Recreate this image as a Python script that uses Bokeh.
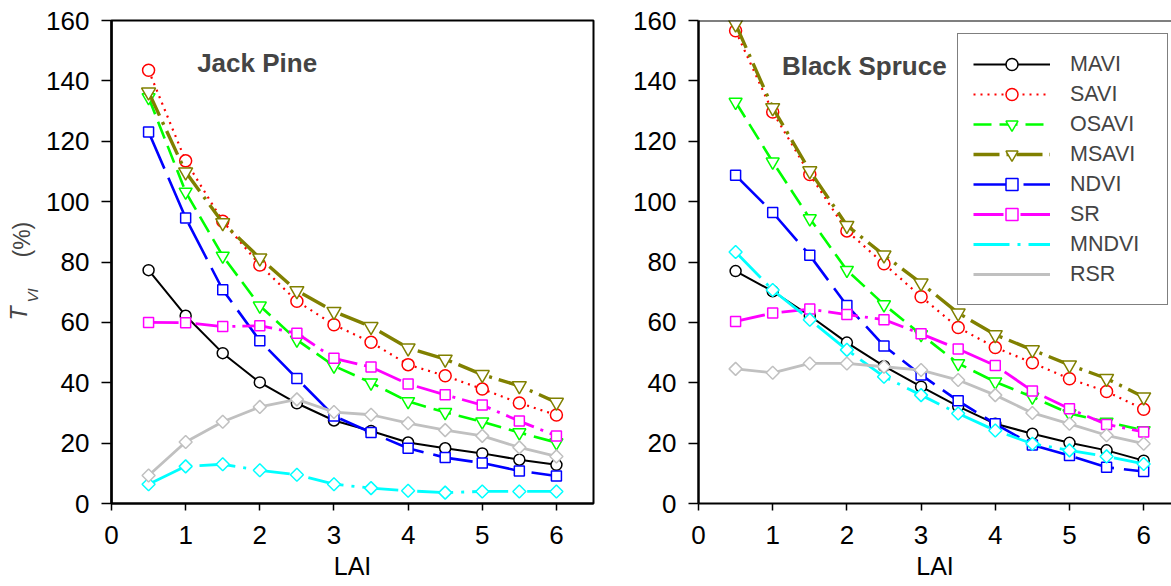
from math import pi

from bokeh.embed import file_html
from bokeh.layouts import row
from bokeh.models import FixedTicker, Label, Legend, LegendItem, Span, Title
from bokeh.plotting import figure
from bokeh.resources import INLINE

# Leaf area index values shared by both stands
lai = [0.5, 1.0, 1.5, 2.0, 2.5, 3.0, 3.5, 4.0, 4.5, 5.0, 5.5, 6.0]

# Jack Pine: T_VI (%) per vegetation index
jp_mavi = [77.3, 62.2, 49.8, 40.1, 33.2, 27.5, 24.0, 20.2, 18.3, 16.6, 14.5, 12.8]
jp_savi = [143.5, 113.5, 93.5, 79.0, 67.0, 59.2, 53.4, 46.0, 42.3, 37.9, 33.3, 29.3]
jp_osavi = [134.5, 103.2, 82.0, 65.5, 54.2, 45.6, 40.0, 33.8, 30.2, 27.1, 23.5, 20.2]
jp_msavi = [136.3, 109.8, 93.0, 81.3, 70.5, 63.6, 58.6, 51.5, 47.8, 42.7, 39.0, 33.5]
jp_ndvi = [123.1, 94.6, 70.8, 53.9, 41.4, 29.0, 23.5, 18.3, 15.2, 13.4, 10.8, 9.1]
jp_sr = [60.0, 59.9, 58.6, 58.9, 56.4, 48.1, 45.2, 39.6, 36.0, 32.6, 27.3, 22.4]
jp_mndvi = [6.4, 12.3, 13.0, 11.0, 9.5, 6.4, 5.1, 4.2, 3.6, 4.0, 4.0, 4.0]
jp_rsr = [9.3, 20.4, 27.1, 32.0, 34.5, 30.3, 29.4, 26.6, 24.3, 22.4, 18.6, 15.6]

# Black Spruce: T_VI (%) per vegetation index
bs_mavi = [77.0, 70.3, 62.2, 53.3, 45.5, 38.7, 32.2, 26.4, 23.1, 20.1, 17.6, 14.2]
bs_savi = [156.6, 129.7, 109.0, 90.3, 79.4, 68.5, 58.3, 51.7, 46.6, 41.3, 37.1, 31.2]
bs_osavi = [133.0, 113.2, 94.4, 77.3, 65.9, 56.0, 46.4, 40.3, 35.3, 29.8, 27.0, 24.2]
bs_msavi = [158.8, 131.1, 110.2, 92.1, 82.3, 73.0, 63.1, 55.9, 50.9, 45.9, 41.4, 35.3]
bs_ndvi = [108.7, 96.4, 82.2, 65.6, 52.2, 42.6, 34.0, 26.4, 19.4, 15.9, 12.0, 10.6]
bs_sr = [60.3, 63.1, 64.4, 62.6, 60.9, 56.2, 51.2, 45.7, 37.3, 31.4, 26.2, 23.7]
bs_mndvi = [83.3, 70.7, 60.9, 50.9, 42.0, 35.9, 29.8, 24.2, 19.8, 17.6, 15.6, 13.1]
bs_rsr = [44.6, 43.3, 46.4, 46.4, 45.3, 44.2, 40.9, 35.9, 30.0, 26.4, 22.6, 19.8]

index_names = ["MAVI", "SAVI", "OSAVI", "MSAVI", "NDVI", "SR", "MNDVI", "RSR"]
jack_pine = [jp_mavi, jp_savi, jp_osavi, jp_msavi, jp_ndvi, jp_sr, jp_mndvi, jp_rsr]
black_spruce = [bs_mavi, bs_savi, bs_osavi, bs_msavi, bs_ndvi, bs_sr, bs_mndvi, bs_rsr]

x_ticks = [0, 1, 2, 3, 4, 5, 6]
y_ticks = [0, 20, 40, 60, 80, 100, 120, 140, 160]

FONT = "Liberation Sans"

# line colour, dash, width, marker, marker size, marker angle, legend marker
STYLES = {
    "MAVI": ("black", "solid", 2.0, "circle", 11, 0.0, "circle"),
    "SAVI": ("#FF0000", "2 5", 2.2, "circle", 12, 0.0, "circle"),
    "OSAVI": ("#00FF00", "18 8", 2.6, "inverted_triangle", 13, 0.0, "inverted_triangle"),
    "MSAVI": ("#808000", "26 7 3 7", 3.4, "inverted_triangle", 14, 0.0, "inverted_triangle"),
    "NDVI": ("#0000FF", "40 10", 2.6, "square", 10, 0.0, "square"),
    "SR": ("#FF00FF", "30 7 3 7", 2.8, "square", 10, 0.0, "square"),
    "MNDVI": ("#00FFFF", "36 8 3 8", 2.8, "square", 9.2, pi / 4, "diamond"),
    "RSR": ("#C0C0C0", "solid", 2.8, "square", 9.2, pi / 4, "diamond"),
}


def style_axes(p):
    for ax, out in ((p.xaxis, 7), (p.yaxis, 10)):
        ax.axis_line_color = "black"
        ax.major_tick_line_color = "black"
        ax.major_tick_line_width = 1.5
        ax.major_tick_in = 0
        ax.major_tick_out = out
        ax.minor_tick_line_color = None
        ax.major_label_text_font = FONT
        ax.major_label_text_font_size = "26px"
        ax.major_label_text_color = "black"
    p.xaxis.major_label_standoff = 15
    p.yaxis.major_label_standoff = 12
    p.xaxis.axis_line_width = 2
    p.yaxis.axis_line_width = 2.5
    p.xaxis.ticker = FixedTicker(ticks=x_ticks)
    p.yaxis.ticker = FixedTicker(ticks=y_ticks)


def make_panel(values, title, title_x, title_y, width, x_end, border_left,
               border_right, boxed, with_legend, lai_offset):
    p = figure(width=width, height=586, x_range=(0, x_end), y_range=(0, 160),
               output_backend="svg", toolbar_location=None,
               min_border_left=border_left, min_border_right=border_right,
               min_border_top=20, min_border_bottom=83)
    p.grid.visible = False
    p.background_fill_color = "white"
    p.border_fill_color = "white"
    if boxed:
        p.outline_line_color = "black"
        p.outline_line_width = 2
        p.outline_line_alpha = 1
    else:
        p.outline_line_color = None
        p.add_layout(Span(location=160, dimension="width",
                          line_color="black", line_width=2))
    style_axes(p)

    items = []
    for name, ys in zip(index_names, values):
        color, dash, lw, marker, size, angle, key_marker = STYLES[name]
        lr = p.line(lai, ys, line_color=color, line_dash=dash, line_width=lw)
        sr = p.scatter(lai, ys, marker=marker, size=size, angle=angle,
                       line_color=color, line_width=1.5, fill_color="white")
        if key_marker != marker:
            # legend sample only, no data points
            sr = p.scatter([], [], marker=key_marker, line_color=color,
                           line_width=1.5, fill_color="white")
        items.append(LegendItem(label=name, renderers=[lr, sr]))

    p.add_layout(Label(x=title_x, y=title_y, text=title, text_font=FONT,
                       text_font_style="bold", text_font_size="26px",
                       text_baseline="alphabetic", text_align="left"))

    p.add_layout(Title(text="LAI", align="center", offset=lai_offset, standoff=6,
                       text_font=FONT, text_font_size="25px",
                       text_font_style="normal", text_color="black"), "below")

    if with_legend:
        legend = Legend(items=items, location=(259, 198), margin=0,
                        border_line_color="black", border_line_width=1,
                        background_fill_color="white", background_fill_alpha=1,
                        padding=15, spacing=0, glyph_width=77, glyph_height=30,
                        label_height=30, label_width=82, label_standoff=20,
                        label_text_font=FONT, label_text_font_size="21.5px")
        p.add_layout(legend)
    return p


# narrow strip carrying the y-axis title: italic T, subscript VI, then (%)
ylab = figure(width=42, height=586, x_range=(0, 42), y_range=(0, 483),
              x_axis_type=None, y_axis_type=None, output_backend="svg",
              toolbar_location=None, min_border_left=0, min_border_right=0,
              min_border_top=20, min_border_bottom=83)
ylab.grid.visible = False
ylab.outline_line_color = None
ylab.add_layout(Label(x=18, y=183, x_units="screen", y_units="screen", text="T",
                      angle=pi / 2, text_font=FONT, text_font_style="italic",
                      text_font_size="23px", text_align="left",
                      text_baseline="alphabetic"))
ylab.add_layout(Label(x=32, y=201, x_units="screen", y_units="screen", text="VI",
                      angle=pi / 2, text_font=FONT, text_font_style="italic",
                      text_font_size="15px", text_align="left",
                      text_baseline="alphabetic"))
ylab.add_layout(Label(x=21, y=246, x_units="screen", y_units="screen", text="(%)",
                      angle=pi / 2, text_font=FONT, text_font_size="23px",
                      text_align="left", text_baseline="alphabetic"))

left = make_panel(jack_pine, "Jack Pine", 1.155, 146.0, 558, 6.5, 69, 7,
                  True, False, 2.5)
right = make_panel(black_spruce, "Black Spruce", 1.124, 145.0, 571, 6.375, 98, 0,
                   False, True, 13.5)

layout = row(ylab, left, right, spacing=0)
open("out.html", "w").write(file_html(layout, INLINE))
